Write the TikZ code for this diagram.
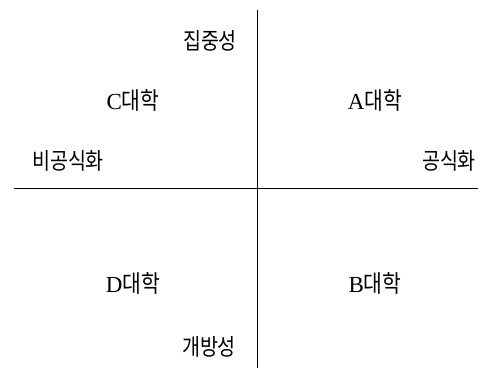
\documentclass[tikz,border=0pt]{standalone}
\usepackage{fontspec}
\setmainfont{Liberation Serif}
\newfontfamily\kr{Noto Sans CJK KR}[FakeStretch=0.85]
\tikzset{
  big/.style={font=\fontsize{23}{27}\selectfont, inner sep=0pt},
  small/.style={font=\kr\fontsize{23}{27}\selectfont, inner sep=0pt}}
\newcommand{\krbig}[1]{{\kr\fontsize{24}{27}\selectfont #1}}
\begin{document}
\begin{tikzpicture}[x=1pt,y=-1pt]
\useasboundingbox (0,0) rectangle (490,370);
\coordinate (vt) at (257,10);
\coordinate (vb) at (257,368);
\coordinate (hl) at (14,188);
\coordinate (hr) at (478,188);
\draw[line width=0.9pt] (vt) -- (vb);
\draw[line width=0.9pt] (hl) -- (hr);
\node[small] (top) at (210,41) {집중성};
\node[big] (c) at (133,100) {C\krbig{대학}};
\node[big] (a) at (375,100) {A\krbig{대학}};
\node[small] (left) at (68,161) {비공식화};
\node[small] (right) at (449,161) {공식화};
\node[big] (d) at (133,283) {D\krbig{대학}};
\node[big] (b) at (375,283) {B\krbig{대학}};
\node[small] (bottom) at (209,347) {개방성};
\end{tikzpicture}
\end{document}
